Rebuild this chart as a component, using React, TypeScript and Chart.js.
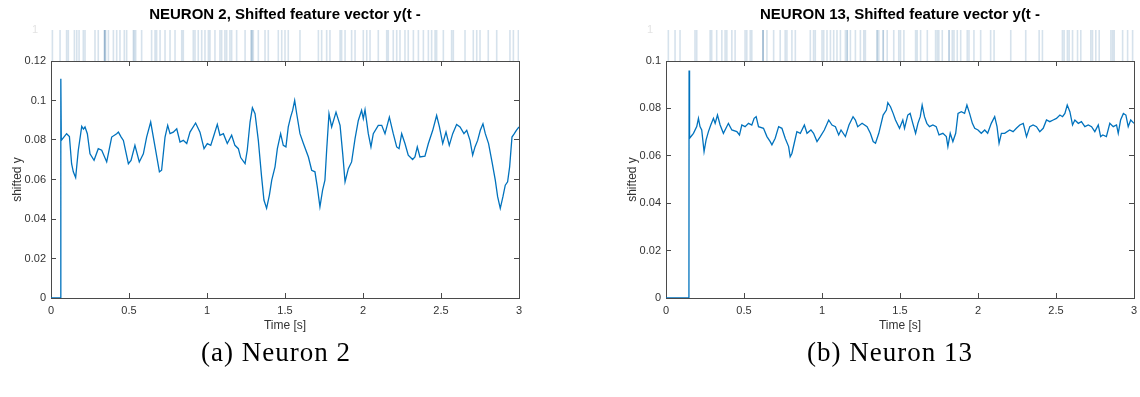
import React, { useEffect, useRef } from 'react';
import { Chart, registerables } from 'chart.js';
Chart.register(...registerables);

// ---------- DATA ----------
const n2Times = [0, 0.062, 0.063, 0.066, 0.1, 0.118, 0.132, 0.143, 0.158, 0.175, 0.197, 0.208, 0.218, 0.233, 0.25, 0.276, 0.303, 0.325, 0.357, 0.389, 0.421, 0.432, 0.45, 0.464, 0.496, 0.513, 0.538, 0.566, 0.592, 0.613, 0.639, 0.667, 0.695, 0.709, 0.731, 0.748, 0.763, 0.784, 0.806, 0.827, 0.848, 0.87, 0.891, 0.927, 0.955, 0.981, 1.002, 1.024, 1.041, 1.066, 1.083, 1.105, 1.13, 1.158, 1.179, 1.201, 1.216, 1.244, 1.258, 1.276, 1.291, 1.308, 1.329, 1.35, 1.365, 1.382, 1.4, 1.415, 1.436, 1.451, 1.472, 1.489, 1.506, 1.521, 1.536, 1.549, 1.562, 1.575, 1.596, 1.618, 1.65, 1.671, 1.692, 1.707, 1.724, 1.741, 1.756, 1.767, 1.782, 1.799, 1.827, 1.853, 1.87, 1.885, 1.906, 1.927, 1.949, 1.97, 1.991, 2.002, 2.013, 2.034, 2.051, 2.066, 2.098, 2.12, 2.141, 2.169, 2.194, 2.216, 2.231, 2.248, 2.269, 2.29, 2.318, 2.333, 2.348, 2.365, 2.397, 2.419, 2.447, 2.472, 2.49, 2.511, 2.532, 2.553, 2.575, 2.6, 2.622, 2.647, 2.665, 2.686, 2.703, 2.718, 2.735, 2.752, 2.769, 2.784, 2.805, 2.827, 2.848, 2.863, 2.88, 2.897, 2.912, 2.927, 2.94, 2.955, 2.97, 2.983, 3.0];
const n2Values = [0, 0, 0.111, 0.0798, 0.0832, 0.0818, 0.068, 0.0639, 0.061, 0.0748, 0.0869, 0.0855, 0.0866, 0.0832, 0.073, 0.0697, 0.0756, 0.0748, 0.0689, 0.0815, 0.0832, 0.084, 0.0815, 0.0798, 0.068, 0.0697, 0.0773, 0.0689, 0.073, 0.0815, 0.0891, 0.0765, 0.0639, 0.0647, 0.0815, 0.0874, 0.0832, 0.084, 0.0857, 0.079, 0.0798, 0.0782, 0.084, 0.0886, 0.084, 0.0756, 0.0782, 0.0773, 0.0815, 0.0879, 0.0824, 0.0832, 0.0782, 0.0824, 0.0773, 0.0756, 0.0711, 0.068, 0.0748, 0.0891, 0.0963, 0.0933, 0.0798, 0.0613, 0.0496, 0.0454, 0.0521, 0.0597, 0.0664, 0.0756, 0.0832, 0.0773, 0.0765, 0.0866, 0.0916, 0.095, 0.1, 0.0933, 0.0832, 0.0782, 0.0714, 0.0647, 0.0639, 0.0563, 0.0462, 0.0546, 0.0597, 0.0748, 0.0933, 0.0866, 0.0941, 0.0874, 0.073, 0.0588, 0.0655, 0.0689, 0.0807, 0.0899, 0.095, 0.0908, 0.0953, 0.0832, 0.0765, 0.0832, 0.0874, 0.0874, 0.0832, 0.0916, 0.0832, 0.0765, 0.0756, 0.0832, 0.0782, 0.0723, 0.0701, 0.0714, 0.0765, 0.0714, 0.0718, 0.0782, 0.0849, 0.0924, 0.0866, 0.0782, 0.084, 0.0773, 0.0832, 0.0879, 0.0866, 0.0832, 0.0849, 0.0798, 0.0723, 0.0765, 0.0798, 0.0849, 0.0882, 0.0832, 0.0782, 0.0689, 0.0597, 0.0513, 0.0454, 0.0513, 0.0571, 0.0588, 0.0664, 0.0815, 0.0832, 0.0849, 0.0866];

const n13Times = [0, 0.147, 0.148, 0.151, 0.176, 0.197, 0.208, 0.218, 0.229, 0.244, 0.257, 0.272, 0.287, 0.304, 0.315, 0.33, 0.347, 0.368, 0.4, 0.422, 0.454, 0.471, 0.486, 0.507, 0.529, 0.55, 0.565, 0.578, 0.593, 0.625, 0.647, 0.668, 0.679, 0.7, 0.722, 0.743, 0.764, 0.786, 0.796, 0.807, 0.822, 0.839, 0.861, 0.887, 0.904, 0.929, 0.946, 0.968, 0.989, 1.015, 1.043, 1.064, 1.086, 1.107, 1.122, 1.15, 1.173, 1.199, 1.214, 1.229, 1.257, 1.289, 1.31, 1.328, 1.343, 1.364, 1.392, 1.413, 1.422, 1.439, 1.456, 1.471, 1.497, 1.518, 1.529, 1.55, 1.565, 1.582, 1.6, 1.615, 1.63, 1.642, 1.657, 1.672, 1.689, 1.711, 1.732, 1.75, 1.775, 1.797, 1.807, 1.822, 1.839, 1.857, 1.872, 1.893, 1.914, 1.929, 1.946, 1.964, 1.979, 2.0, 2.021, 2.043, 2.062, 2.085, 2.107, 2.122, 2.135, 2.15, 2.171, 2.203, 2.225, 2.246, 2.268, 2.29, 2.311, 2.332, 2.353, 2.375, 2.396, 2.418, 2.439, 2.46, 2.482, 2.503, 2.525, 2.542, 2.557, 2.572, 2.589, 2.606, 2.621, 2.643, 2.663, 2.685, 2.707, 2.728, 2.749, 2.771, 2.786, 2.8, 2.823, 2.845, 2.867, 2.888, 2.899, 2.914, 2.932, 2.948, 2.963, 2.979, 3.0];
const n13Values = [0, 0, 0.096, 0.0674, 0.0695, 0.0723, 0.0758, 0.0723, 0.0709, 0.0618, 0.0667, 0.0702, 0.073, 0.0758, 0.0737, 0.0772, 0.073, 0.0695, 0.0737, 0.0709, 0.0702, 0.0688, 0.073, 0.0723, 0.0737, 0.073, 0.0758, 0.0765, 0.0723, 0.0716, 0.0681, 0.066, 0.0646, 0.0674, 0.0723, 0.0716, 0.0674, 0.0639, 0.0596, 0.061, 0.0653, 0.0702, 0.0695, 0.073, 0.0695, 0.0709, 0.0695, 0.066, 0.0681, 0.0709, 0.0751, 0.073, 0.0723, 0.0688, 0.0709, 0.0681, 0.073, 0.0765, 0.0751, 0.0723, 0.0737, 0.0723, 0.0695, 0.066, 0.0653, 0.0695, 0.0772, 0.0793, 0.0824, 0.0807, 0.0779, 0.0751, 0.0716, 0.0751, 0.0716, 0.0772, 0.0779, 0.0737, 0.0695, 0.0737, 0.0765, 0.0814, 0.0765, 0.0737, 0.0723, 0.073, 0.0723, 0.0688, 0.0695, 0.0681, 0.0639, 0.0695, 0.066, 0.0695, 0.0779, 0.0786, 0.0779, 0.0814, 0.0779, 0.0737, 0.0716, 0.0709, 0.0695, 0.0709, 0.0695, 0.0737, 0.0765, 0.0723, 0.0653, 0.0695, 0.0695, 0.0709, 0.0702, 0.0716, 0.073, 0.0737, 0.0681, 0.0723, 0.073, 0.0723, 0.0702, 0.0716, 0.0751, 0.0744, 0.0751, 0.0758, 0.0772, 0.0765, 0.0779, 0.0814, 0.0786, 0.073, 0.0751, 0.0737, 0.0744, 0.0723, 0.073, 0.0723, 0.0702, 0.073, 0.0681, 0.0688, 0.0681, 0.0737, 0.0723, 0.073, 0.0695, 0.0751, 0.0779, 0.0772, 0.0723, 0.0751, 0.0737];

const n2Spikes = [0.009, 0.058, 0.1, 0.111, 0.15, 0.165, 0.18, 0.207, 0.218, 0.282, 0.303, 0.342, 0.344, 0.345, 0.35, 0.368, 0.4, 0.421, 0.442, 0.47, 0.485, 0.528, 0.534, 0.543, 0.581, 0.645, 0.667, 0.677, 0.699, 0.731, 0.763, 0.795, 0.838, 0.848, 0.912, 0.923, 0.944, 0.966, 0.987, 1.009, 1.019, 1.051, 1.083, 1.094, 1.115, 1.126, 1.147, 1.158, 1.19, 1.244, 1.282, 1.286, 1.29, 1.297, 1.329, 1.372, 1.393, 1.457, 1.479, 1.5, 1.521, 1.596, 1.714, 1.735, 1.767, 1.788, 1.853, 1.863, 1.885, 1.927, 1.949, 2.002, 2.024, 2.045, 2.098, 2.152, 2.162, 2.194, 2.216, 2.237, 2.269, 2.29, 2.323, 2.355, 2.387, 2.419, 2.44, 2.462, 2.472, 2.515, 2.568, 2.579, 2.654, 2.707, 2.729, 2.75, 2.803, 2.857, 2.942, 2.964, 2.996];
const n13Spikes = [0.015, 0.058, 0.09, 0.186, 0.197, 0.283, 0.293, 0.325, 0.358, 0.379, 0.39, 0.422, 0.443, 0.507, 0.518, 0.54, 0.55, 0.621, 0.622, 0.623, 0.647, 0.69, 0.732, 0.764, 0.775, 0.807, 0.829, 0.925, 0.946, 0.957, 1.0, 1.011, 1.032, 1.054, 1.075, 1.096, 1.118, 1.15, 1.161, 1.162, 1.182, 1.214, 1.246, 1.268, 1.278, 1.353, 1.354, 1.364, 1.392, 1.393, 1.418, 1.46, 1.492, 1.503, 1.525, 1.6, 1.61, 1.632, 1.675, 1.728, 1.739, 1.749, 1.771, 1.814, 1.815, 1.835, 1.846, 1.867, 1.889, 1.931, 1.942, 1.974, 2.017, 2.081, 2.103, 2.21, 2.306, 2.392, 2.413, 2.541, 2.552, 2.573, 2.584, 2.606, 2.638, 2.659, 2.723, 2.734, 2.755, 2.777, 2.852, 2.863, 2.873, 2.927, 2.959, 2.991];

const timeTicks = [0, 0.5, 1, 1.5, 2, 2.5, 3];
const n2YTicks = [0, 0.02, 0.04, 0.06, 0.08, 0.1, 0.12];
const n13YTicks = [0, 0.02, 0.04, 0.06, 0.08, 0.1];
const rasterTicks = [0, 0.5, 1];

const n2Title = 'NEURON 2, Shifted feature vector y(t -';
const n13Title = 'NEURON 13, Shifted feature vector y(t -';
const xTitle = 'Time [s]';
const yTitle = 'shifted y';
const n2Caption = '(a) Neuron 2';
const n13Caption = '(b) Neuron 13';

// ---------- STYLE ----------
const FONT = "'Liberation Sans', Arial, Helvetica, sans-serif";
const AXIS = '#4a4a4a';
const TEXT = '#333333';
const LINE = '#0072BD';
const W = 525;
const MAIN_TOP = 40;
const MAIN_H = 300;
const fmt = (v: number) => String(+Number(v).toFixed(4));

function setTicks(values: number[]) {
  return (s: any) => {
    s.ticks = values.map((v) => ({ value: v }));
  };
}

// fix an axis box size and drop the label overhang padding Chart.js adds
function fixSize(key: 'width' | 'height', size: number) {
  return (s: any) => {
    s[key] = size;
    s.paddingTop = 0;
    s.paddingBottom = 0;
    s.paddingLeft = 0;
    s.paddingRight = 0;
  };
}

function Panel(props: {
  left: number;
  title: string;
  times: number[];
  values: number[];
  spikes: number[];
  yTicks: number[];
}) {
  const rasterRef = useRef<HTMLCanvasElement>(null);
  const mainRef = useRef<HTMLCanvasElement>(null);
  const { title, times, values, spikes, yTicks } = props;

  useEffect(() => {
    const yMax = yTicks[yTicks.length - 1];
    const raster = new Chart(rasterRef.current!, {
      type: 'scatter',
      data: {
        datasets: [
          {
            data: spikes.map((t) => ({ x: t, y: 0.5 })),
            pointStyle: 'line',
            pointRotation: 90,
            pointRadius: 15.5,
            pointHoverRadius: 15.5,
            pointBorderColor: 'rgba(50,110,160,0.2)',
            pointBorderWidth: 1.6,
            pointBackgroundColor: 'rgba(0,0,0,0)',
          } as any,
        ],
      },
      options: {
        animation: false,
        responsive: false,
        events: [],
        layout: { autoPadding: false, padding: { left: 0, right: 6, top: 0, bottom: 0 } },
        plugins: {
          legend: { display: false },
          tooltip: { enabled: false },
          title: {
            display: true,
            text: title,
            fullSize: false,
            color: '#000',
            font: { family: FONT, size: 15, weight: 'bold' },
            padding: { top: 6, bottom: 6 },
          },
        },
        scales: {
          x: { type: 'linear', min: 0, max: 3, display: false },
          y: {
            type: 'linear',
            min: 0,
            max: 1,
            afterBuildTicks: setTicks(rasterTicks),
            afterFit: fixSize('width', 51),
            grid: { display: false },
            border: { display: false },
            ticks: {
              color: '#e3e3e3',
              padding: 5,
              font: { family: FONT, size: 11 },
              callback: (v: any) => (v === 0 ? '' : fmt(v)),
            },
          },
        },
      } as any,
    });

    const tickAxis = (pos: string, ticks: number[], max: number) => ({
      type: 'linear',
      position: pos,
      min: 0,
      max,
      afterBuildTicks: setTicks(ticks),
      grid: { drawOnChartArea: false, drawTicks: true, tickLength: -5, color: AXIS, lineWidth: 1 },
      border: { display: true, color: AXIS, width: 1 },
    });

    const main = new Chart(mainRef.current!, {
      type: 'line',
      data: {
        datasets: [
          {
            data: times.map((t, i) => ({ x: t, y: values[i] })),
            borderColor: LINE,
            borderWidth: 1.3,
            pointRadius: 0,
            pointHoverRadius: 0,
            tension: 0,
            fill: false,
          },
        ],
      },
      options: {
        animation: false,
        responsive: false,
        events: [],
        layout: { autoPadding: false, padding: { left: 0, right: 6, top: 61 - MAIN_TOP, bottom: 0 } },
        plugins: { legend: { display: false }, tooltip: { enabled: false } },
        scales: {
          x: {
            ...tickAxis('bottom', timeTicks, 3),
            afterFit: fixSize('height', MAIN_TOP + MAIN_H - 298),
            ticks: {
              color: TEXT,
              padding: 11,
              maxRotation: 0,
              autoSkip: false,
              font: { family: FONT, size: 11 },
              callback: (v: any) => fmt(v),
            },
            title: {
              display: true,
              text: xTitle,
              color: TEXT,
              font: { family: FONT, size: 12 },
              padding: { top: 0, bottom: 7 },
            },
          },
          xTop: {
            ...tickAxis('top', timeTicks, 3),
            afterFit: fixSize('height', 0),
            ticks: { display: false },
          },
          y: {
            ...tickAxis('left', yTicks, yMax),
            afterFit: fixSize('width', 51),
            ticks: {
              color: TEXT,
              padding: 10,
              font: { family: FONT, size: 11 },
              callback: (v: any) => fmt(v),
            },
            title: {
              display: true,
              text: yTitle,
              color: TEXT,
              font: { family: FONT, size: 12 },
              padding: { top: 10, bottom: 0 },
            },
          },
          yRight: {
            ...tickAxis('right', yTicks, yMax),
            afterFit: fixSize('width', 0),
            ticks: { display: false },
          },
        },
      } as any,
    });

    return () => {
      raster.destroy();
      main.destroy();
    };
  }, []);

  return (
    <>
      <div style={{ position: 'absolute', left: props.left, top: 0, width: W, height: 61 }}>
        <canvas ref={rasterRef} width={W} height={61} style={{ width: W, height: 61, display: 'block' }} />
      </div>
      <div style={{ position: 'absolute', left: props.left, top: MAIN_TOP, width: W, height: MAIN_H }}>
        <canvas ref={mainRef} width={W} height={MAIN_H} style={{ width: W, height: MAIN_H, display: 'block' }} />
      </div>
    </>
  );
}

const captionStyle: React.CSSProperties = {
  position: 'absolute',
  top: 336,
  width: 300,
  textAlign: 'center',
  fontFamily: "'Liberation Serif', 'Times New Roman', serif",
  fontSize: 27,
  letterSpacing: 1,
  lineHeight: '32px',
  color: '#000',
  whiteSpace: 'nowrap',
};

export default function App() {
  return (
    <div
      style={{
        position: 'fixed',
        left: 0,
        top: 0,
        width: 1140,
        height: 397,
        background: '#fff',
        overflow: 'hidden',
      }}
    >
      <Panel left={0} title={n2Title} times={n2Times} values={n2Values} spikes={n2Spikes} yTicks={n2YTicks} />
      <Panel left={615} title={n13Title} times={n13Times} values={n13Values} spikes={n13Spikes} yTicks={n13YTicks} />
      <div style={{ ...captionStyle, left: 276 - 150 }}>{n2Caption}</div>
      <div style={{ ...captionStyle, left: 890 - 150 }}>{n13Caption}</div>
    </div>
  );
}
